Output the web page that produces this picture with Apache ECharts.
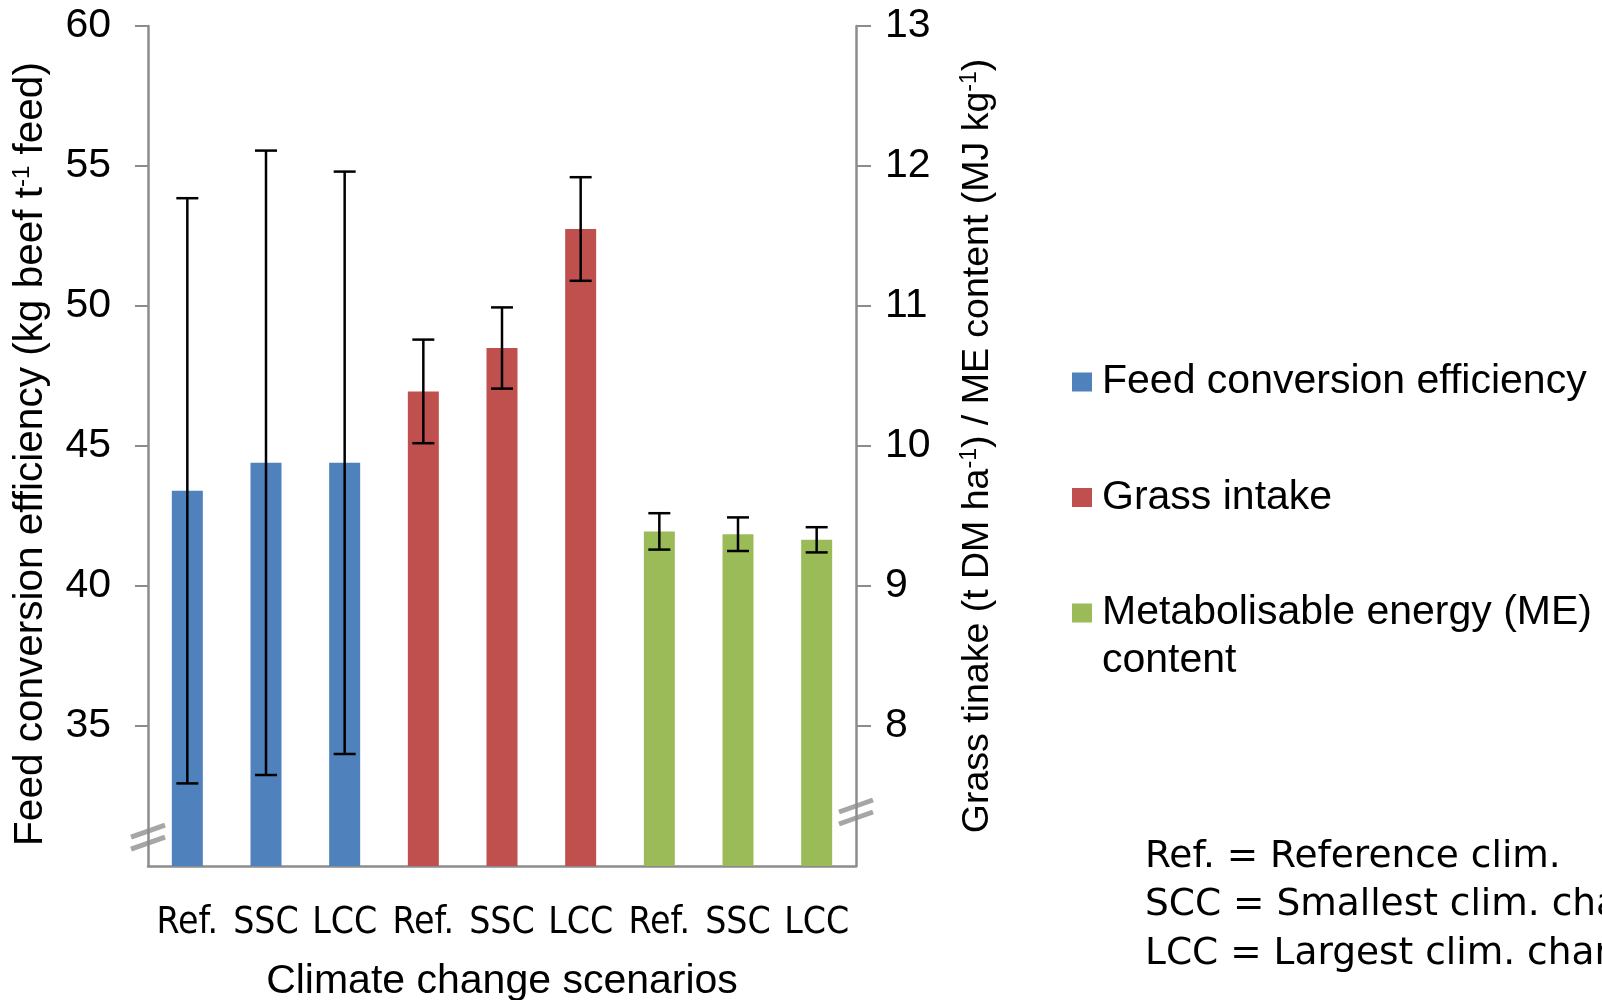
<!DOCTYPE html>
<html>
<head>
<meta charset="utf-8">
<script src="https://cdn.jsdelivr.net/npm/echarts@6/dist/echarts.min.js"></script>
<style>
  html, body { margin: 0; padding: 0; background: #fff; }
  #chart { width: 1602px; height: 1000px; }
</style>
</head>
<body>
<div id="chart"></div>
<script>
// scenarios, three per variable
var categories = ['Ref.', 'SSC', 'LCC', 'Ref.', 'SSC', 'LCC', 'Ref.', 'SSC', 'LCC']

// feed conversion efficiency (left axis)
var feedValues = [43.4, 44.4, 44.4]
var feedErrors = [10.45, 11.15, 10.4]
// grass intake (right axis)
var grassValues = [10.39, 10.7, 11.55]
var grassErrors = [0.37, 0.29, 0.37]
// metabolisable energy content (right axis)
var meValues = [9.39, 9.37, 9.33]
var meErrors = [0.13, 0.12, 0.09]

var leftTicks = { min: 30, max: 60, interval: 5 }
var rightTicks = { min: 7, max: 13, interval: 1 }

var seriesNames = ['Feed conversion efficiency', 'Grass intake', 'Metabolisable energy (ME) content']
var colors = ['#4f81bd', '#c0504d', '#9bbb59']

var notes = ['Ref. = Reference clim.', 'SCC = Smallest clim. change', 'LCC = Largest clim. change']

var axisGray = '#8c8c8c'

// put a group's values into its three slots of the nine categories
function placeValues(values, offset) {
  var out = categories.map(function () { return '-' })
  values.forEach(function (v, i) { out[offset + i] = v })
  return out
}

function errorData(values, errors, offset) {
  return values.map(function (v, i) {
    return [offset + i, v - errors[i], v + errors[i]]
  })
}

function renderErrorBar(params, api) {
  var lo = api.coord([api.value(0), api.value(1)])
  var hi = api.coord([api.value(0), api.value(2)])
  var half = 11
  var style = { stroke: '#000', lineWidth: 2.5 }
  return {
    type: 'group',
    children: [
      { type: 'line', shape: { x1: hi[0], y1: hi[1], x2: lo[0], y2: lo[1] }, style: style },
      { type: 'line', shape: { x1: hi[0] - half, y1: hi[1], x2: hi[0] + half, y2: hi[1] }, style: style },
      { type: 'line', shape: { x1: lo[0] - half, y1: lo[1], x2: lo[0] + half, y2: lo[1] }, style: style }
    ]
  }
}

function barSeries(idx, values, offset, yAxisIndex) {
  return {
    name: seriesNames[idx],
    type: 'bar',
    yAxisIndex: yAxisIndex,
    barWidth: 31,
    barGap: '-100%',
    itemStyle: { color: colors[idx] },
    data: placeValues(values, offset)
  }
}

function errSeries(values, errors, offset, yAxisIndex) {
  return {
    type: 'custom',
    yAxisIndex: yAxisIndex,
    renderItem: renderErrorBar,
    encode: { x: 0, y: [1, 2] },
    z: 5,
    silent: true,
    data: errorData(values, errors, offset)
  }
}

var myChart = echarts.init(document.getElementById('chart'))

var option = {
  animation: false,
  grid: { left: 148, right: 746, top: 26, bottom: 134, containLabel: false, outerBoundsMode: 'none' },
  legend: {
    orient: 'vertical',
    left: 1072,
    top: 360,
    itemWidth: 20,
    itemHeight: 19,
    itemGap: 71.5,
    icon: 'rect',
    padding: 0,
    data: seriesNames,
    formatter: function (name) {
      return name === seriesNames[2] ? 'Metabolisable energy (ME)' : name
    },
    textStyle: {
      fontFamily: 'Liberation Sans',
      fontSize: 41,
      lineHeight: 44,
      color: '#000',
      padding: [0, 0, 0, 5]
    }
  },
  xAxis: {
    type: 'category',
    data: categories,
    name: 'Climate change scenarios',
    nameLocation: 'middle',
    nameGap: 95,
    nameTextStyle: { fontFamily: 'Liberation Sans', fontSize: 41, color: '#000' },
    axisLine: { lineStyle: { color: axisGray, width: 2.5 } },
    axisTick: { length: 13, lineStyle: { color: axisGray, width: 2 } },
    axisLabel: {
      interval: 0,
      margin: 39,
      fontFamily: "'DejaVu Sans Condensed', 'DejaVu Sans'",
      fontSize: 37,
      color: '#000'
    }
  },
  yAxis: [
    {
      type: 'value',
      min: leftTicks.min,
      max: leftTicks.max,
      interval: leftTicks.interval,
      name: 'Feed conversion efficiency (kg beef t{sup|-1} feed)',
      nameLocation: 'middle',
      nameRotate: 90,
      nameGap: 96,
      nameTextStyle: {
        fontFamily: 'Liberation Sans',
        fontSize: 40.5,
        lineHeight: 42,
        color: '#000',
        padding: [0, 16, 0, 0],
        rich: { sup: { fontFamily: 'Liberation Sans', fontSize: 24, lineHeight: 24, verticalAlign: 'top', color: '#000' } }
      },
      axisLine: { show: true, lineStyle: { color: axisGray, width: 2.5 } },
      axisTick: { show: true, length: 13, lineStyle: { color: axisGray, width: 2 } },
      splitLine: { show: false },
      axisLabel: {
        showMinLabel: false,
        margin: 37,
        fontFamily: 'Liberation Sans',
        fontSize: 41,
        color: '#000'
      }
    },
    {
      type: 'value',
      position: 'right',
      min: rightTicks.min,
      max: rightTicks.max,
      interval: rightTicks.interval,
      name: 'Grass tinake (t DM ha{sup|-1}) / ME content (MJ kg{sup|-1})',
      nameLocation: 'middle',
      nameRotate: 90,
      nameGap: 102,
      nameTextStyle: {
        fontFamily: 'Liberation Sans',
        fontSize: 37.5,
        lineHeight: 40,
        color: '#000',
        rich: { sup: { fontFamily: 'Liberation Sans', fontSize: 23, lineHeight: 23, verticalAlign: 'top', color: '#000' } }
      },
      axisLine: { show: true, lineStyle: { color: axisGray, width: 2.5 } },
      axisTick: { show: true, length: 15, lineStyle: { color: axisGray, width: 2 } },
      splitLine: { show: false },
      axisLabel: {
        showMinLabel: false,
        margin: 29,
        fontFamily: 'Liberation Sans',
        fontSize: 41,
        color: '#000'
      }
    }
  ],
  series: [
    barSeries(0, feedValues, 0, 0),
    barSeries(1, grassValues, 3, 1),
    barSeries(2, meValues, 6, 1),
    errSeries(feedValues, feedErrors, 0, 0),
    errSeries(grassValues, grassErrors, 3, 1),
    errSeries(meValues, meErrors, 6, 1)
  ]
}

myChart.setOption(option)

// axis break marks and side texts
function breakMark(axisIndex, value) {
  var q = {}
  q['yAxisIndex'] = axisIndex
  var y = myChart.convertToPixel(q, value)
  var x = myChart.convertToPixel({ xAxisIndex: 0 }, axisIndex === 0 ? 0 : categories.length - 1)
  var half = myChart.convertToPixel({ xAxisIndex: 0 }, 1) - myChart.convertToPixel({ xAxisIndex: 0 }, 0)
  var ax = axisIndex === 0 ? x - half / 2 : x + half / 2
  var style = { stroke: '#a6a6a6', lineWidth: 5 }
  return [
    { type: 'line', shape: { x1: ax - 17, y1: y + 2, x2: ax + 17, y2: y - 10 }, style: style },
    { type: 'line', shape: { x1: ax - 17, y1: y + 14, x2: ax + 17, y2: y + 2 }, style: style }
  ]
}

var graphics = breakMark(0, 31.1).concat(breakMark(1, 7.4))
graphics.push({
  type: 'text',
  left: 1102,
  top: 640,
  style: { text: 'content', font: '41px "Liberation Sans"', fill: '#000' }
})
graphics.push({
  type: 'text',
  left: 1145,
  top: 833,
  style: {
    text: notes.join('\n'),
    font: '37.5px "DejaVu Sans"',
    lineHeight: 48.5,
    fill: '#000'
  }
})

myChart.setOption({ graphic: graphics })
</script>
</body>
</html>
